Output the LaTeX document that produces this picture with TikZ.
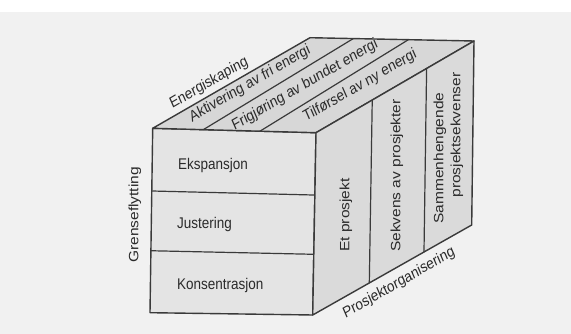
\documentclass[tikz,border=0pt]{standalone}
\usepackage{fontspec}
\setmainfont{Liberation Sans}
\usetikzlibrary{calc}
\definecolor{bgpage}{HTML}{F1F1F1}
\definecolor{frontfill}{HTML}{E4E4E4}
\definecolor{topfill}{HTML}{D7D7D7}
\definecolor{sidefill}{HTML}{DADADA}
\definecolor{edgecol}{HTML}{3A3A3A}
\definecolor{ink}{HTML}{2A2A2A}
\begin{document}
\begin{tikzpicture}[x=1pt,y=-1pt,
  lbl/.style={font=\fontsize{15.5}{18}\selectfont, text=ink, inner sep=0pt, xscale=0.87},
  facepath/.style={draw=edgecol, line width=1.4pt, line join=round},
  divider/.style={draw=edgecol, line width=1.2pt}]
\useasboundingbox (0,0) rectangle (571,334);
\fill[white] (0,0) rectangle (571,334);
\fill[bgpage] (0,12) rectangle (571,334);
% cube corners
\coordinate (A) at (152.7,128.3);
\coordinate (B) at (316,132.7);
\coordinate (C) at (312.7,315);
\coordinate (D) at (150,312.7);
\coordinate (E) at (310,37.7);
\coordinate (F) at (474,41);
\coordinate (G) at (471.7,225);
% faces
\path[facepath, fill=frontfill] (A) -- (B) -- (C) -- (D) -- cycle;
\path[facepath, fill=topfill] (A) -- (E) -- (F) -- (B) -- cycle;
\path[facepath, fill=sidefill] (B) -- (F) -- (G) -- (C) -- cycle;
% front dividers
\coordinate (f1a) at ($(A)!0.34!(D)$);
\coordinate (f1b) at ($(B)!0.342!(C)$);
\coordinate (f2a) at ($(A)!0.664!(D)$);
\coordinate (f2b) at ($(B)!0.667!(C)$);
\draw[divider] (f1a) -- (f1b);
\draw[divider] (f2a) -- (f2b);
% top dividers
\coordinate (t1a) at ($(A)!0.31!(B)$);
\coordinate (t1b) at ($(E)!0.264!(F)$);
\coordinate (t2a) at ($(A)!0.657!(B)$);
\coordinate (t2b) at ($(E)!0.6!(F)$);
\draw[divider] (t1a) -- (t1b);
\draw[divider] (t2a) -- (t2b);
% side dividers
\coordinate (s1a) at ($(B)!0.356!(F)$);
\coordinate (s1b) at ($(C)!0.356!(G)$);
\coordinate (s2a) at ($(B)!0.70!(F)$);
\coordinate (s2b) at ($(C)!0.70!(G)$);
\draw[divider] (s1a) -- (s1b);
\draw[divider] (s2a) -- (s2b);
% front labels
\node[lbl, anchor=base west] (eks) at (178,170) {Ekspansjon};
\node[lbl, anchor=base west] (jus) at (177,228.3) {Justering};
\node[lbl, anchor=base west] (kon) at (177,289) {Konsentrasjon};
\node[lbl, rotate=90] (gre) at (135,215) {Grenseflytting};
% top labels
\node[lbl, rotate=26.8] (ene) at (209,83) {Energiskaping};
\node[lbl, rotate=26.8] (akt) at (250,84) {Aktivering av fri energi};
\node[lbl, rotate=26.8] (fri) at (305,85) {Frigjøring av bundet energi};
\node[lbl, rotate=26.8] (til) at (360,86) {Tilførsel av ny energi};
% side labels
\node[lbl, rotate=90] (etp) at (346,215) {Et prosjekt};
\node[lbl, rotate=90] (sek) at (397,175.5) {Sekvens av prosjekter};
\node[lbl, rotate=90] (sam) at (440,158) {Sammenhengende};
\node[lbl, rotate=90] (pse) at (457,135) {prosjektsekvenser};
\node[lbl, rotate=26.5] (pro) at (399,283) {Prosjektorganisering};
\end{tikzpicture}
\end{document}
